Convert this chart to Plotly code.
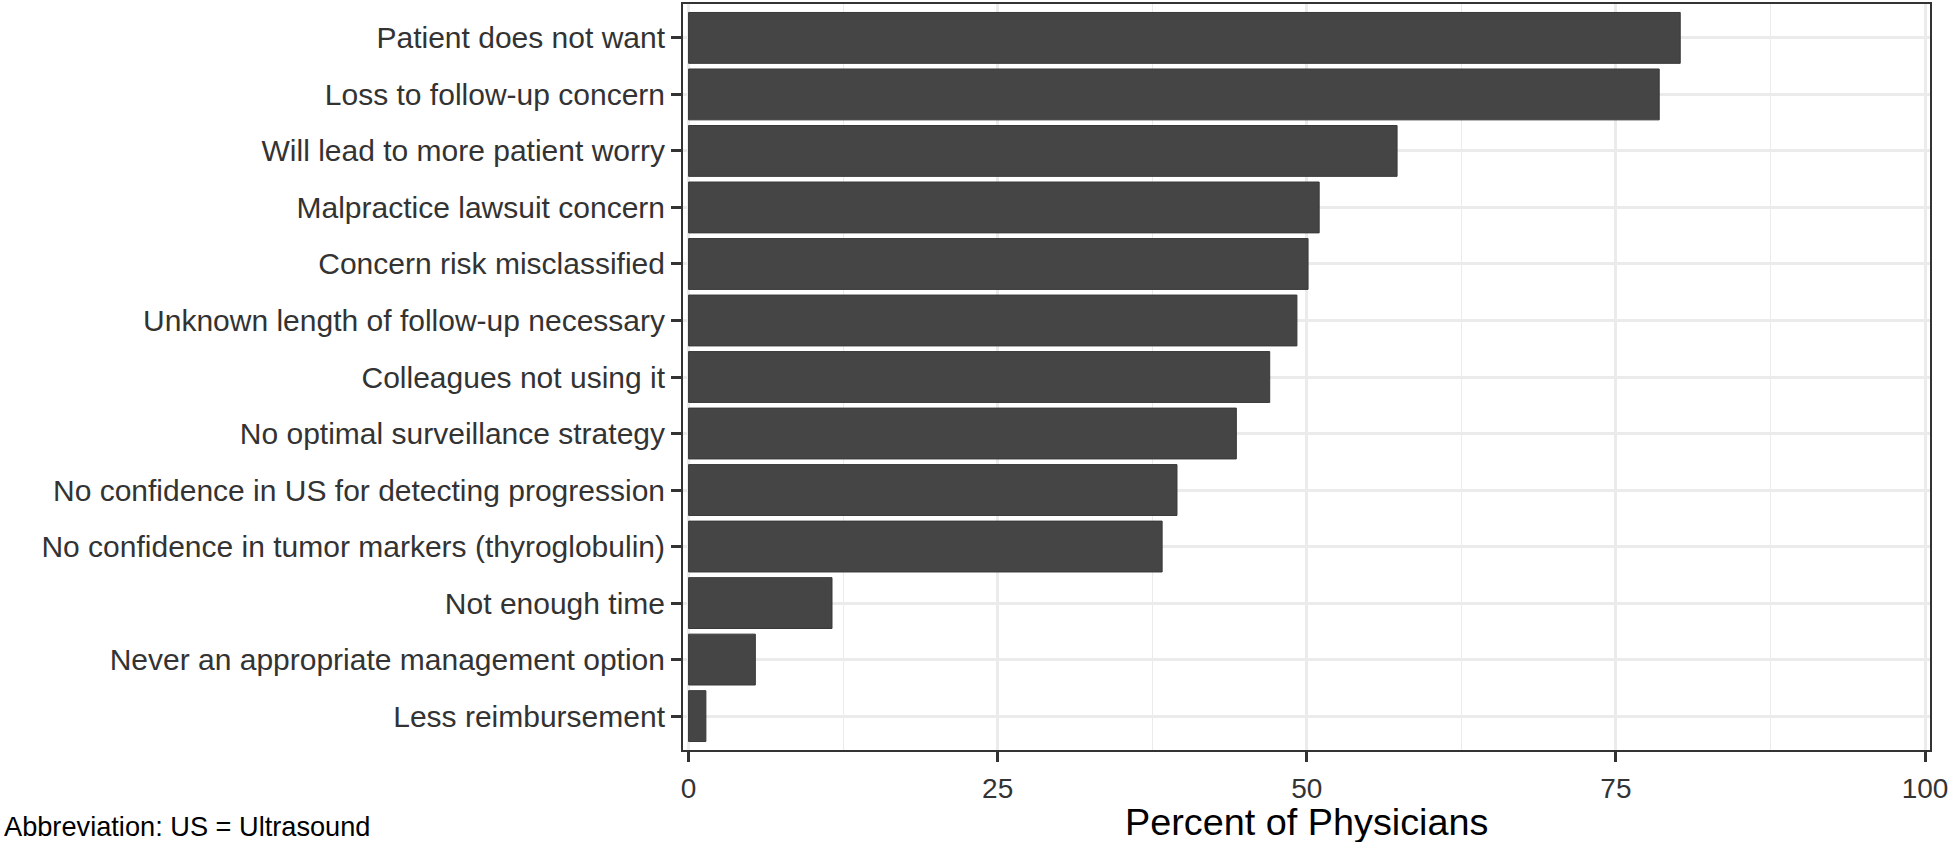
import plotly.graph_objects as go

categories = [
    "Patient does not want",
    "Loss to follow-up concern",
    "Will lead to more patient worry",
    "Malpractice lawsuit concern",
    "Concern risk misclassified",
    "Unknown length of follow-up necessary",
    "Colleagues not using it",
    "No optimal surveillance strategy",
    "No confidence in US for detecting progression",
    "No confidence in tumor markers (thyroglobulin)",
    "Not enough time",
    "Never an appropriate management option",
    "Less reimbursement",
]
percent = [80.2, 78.5, 57.3, 51.0, 50.1, 49.2, 47.0, 44.3, 39.5, 38.3, 11.6, 5.4, 1.4]
x_ticks = [0, 25, 50, 75, 100]
x_title = "Percent of Physicians"
note = "Abbreviation: US = Ultrasound"

W, H = 1950, 842
L, R, T, B = 683, 20, 2, 92
pw, ph = W - L - R, H - T - B

FONT = "Liberation Sans, Arial, sans-serif"
GRID = "#EBEBEB"

fig = go.Figure(
    go.Bar(
        x=percent,
        y=categories,
        orientation="h",
        width=0.9,
        marker=dict(color="#454545", line=dict(color="#383838", width=1)),
        hoverinfo="x+y",
    )
)

fig.update_layout(
    width=W,
    height=H,
    margin=dict(l=L, r=R, t=T, b=B, pad=0),
    paper_bgcolor="white",
    plot_bgcolor="white",
    showlegend=False,
    font=dict(family=FONT, color="#333333"),
    bargap=0.1,
)

fig.update_xaxes(
    range=[-0.45, 100.4],
    tickvals=x_ticks,
    ticktext=[str(v) for v in x_ticks],
    ticks="outside",
    ticklen=10,
    tickwidth=2.5,
    tickcolor="#333333",
    tickfont=dict(size=28, color="#333333", family=FONT),
    ticklabelstandoff=2,
    showgrid=True,
    gridcolor=GRID,
    gridwidth=2.7,
    minor=dict(tick0=12.5, dtick=25, showgrid=True, gridcolor=GRID, gridwidth=1.4, ticks=""),
    zeroline=False,
    showline=True,
    linecolor="#333333",
    linewidth=2,
    mirror=True,
)

fig.update_yaxes(
    type="category",
    categoryorder="array",
    categoryarray=categories,
    range=[len(categories) - 0.4, -0.6],
    ticks="outside",
    ticklen=10,
    tickwidth=2.5,
    tickcolor="#333333",
    tickfont=dict(size=30, color="#333333", family=FONT),
    ticklabelstandoff=0,
    showgrid=True,
    gridcolor=GRID,
    gridwidth=2.7,
    zeroline=False,
    showline=True,
    linecolor="#333333",
    linewidth=2,
    mirror=True,
)

fig.add_annotation(
    text=x_title,
    xref="paper", yref="paper",
    x=0.5, y=-(822 - (T + ph)) / ph,
    xanchor="center", yanchor="middle",
    showarrow=False,
    font=dict(size=37.8, color="black", family=FONT),
)

fig.add_annotation(
    text=note,
    xref="paper", yref="paper",
    x=(2 - L) / pw, y=-(827 - (T + ph)) / ph,
    xanchor="left", yanchor="middle",
    showarrow=False,
    font=dict(size=27.2, color="black", family=FONT),
)

fig.write_html(
    "out.html",
    config={"displayModeBar": False},
    post_script="document.body.style.margin='0';document.body.style.overflow='hidden';",
)
